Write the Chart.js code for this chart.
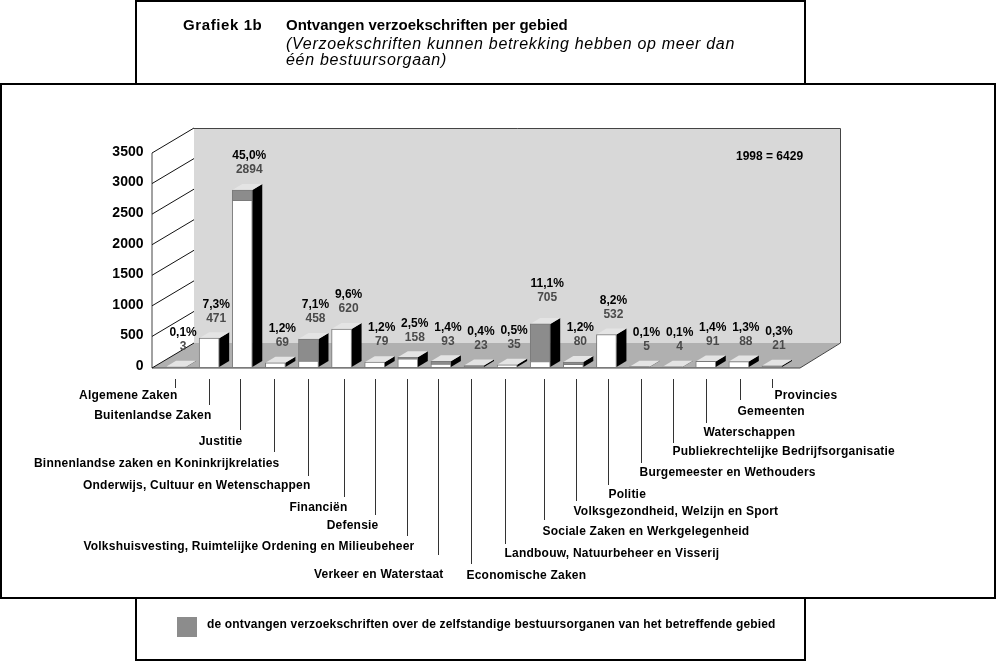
<!DOCTYPE html>
<html>
<head>
<meta charset="utf-8">
<title>Grafiek 1b</title>
<style>
  html, body { margin: 0; padding: 0; background: #fff; }
  canvas { display: block; }
</style>
<script src="https://cdn.jsdelivr.net/npm/chart.js@4/dist/chart.umd.min.js"></script>
</head>
<body>
<canvas id="chart" width="996" height="662"></canvas>
<script>
const categories = [
  'Algemene Zaken', 'Buitenlandse Zaken', 'Justitie', 'Binnenlandse zaken en Koninkrijkrelaties',
  'Onderwijs, Cultuur en Wetenschappen', 'Financiën', 'Defensie',
  'Volkshuisvesting, Ruimtelijke Ordening en Milieubeheer', 'Verkeer en Waterstaat', 'Economische Zaken',
  'Landbouw, Natuurbeheer en Visserij', 'Sociale Zaken en Werkgelegenheid', 'Volksgezondheid, Welzijn en Sport',
  'Politie', 'Burgemeester en Wethouders', 'Publiekrechtelijke Bedrijfsorganisatie', 'Waterschappen',
  'Gemeenten', 'Provincies',
]
const totals   = [3, 471, 2894, 69, 458, 620, 79, 158, 93, 23, 35, 705, 80, 532, 5, 4, 91, 88, 21]
const zboParts = [0, 0, 170, 0, 360, 0, 0, 25, 45, 23, 0, 615, 35, 0, 5, 4, 0, 0, 21]
const percents = ['0,1%', '7,3%', '45,0%', '1,2%', '7,1%', '9,6%', '1,2%', '2,5%', '1,4%', '0,4%', '0,5%', '11,1%', '1,2%', '8,2%', '0,1%', '0,1%', '1,4%', '1,3%', '0,3%']
const yTicks   = [0, 500, 1000, 1500, 2000, 2500, 3000, 3500]

// leader lines and their labels, per category
const leaderShift = [-1, 0, -2, -1, 0, 2, 0, -1, -3, -3, -2, 4, 3, 2, 1, 0, 0, 1, 0]
const leaderEnds  = [388, 405, 430, 452, 476, 497, 515, 536, 555, 564, 544, 520, 501, 485, 463, 443, 423, 400, 388]
const labelYs     = [396, 416, 442, 464, 486, 508, 526, 547, 575, 576, 554, 532, 512, 495, 473, 452, 433, 412, 396]
const labelShift  = [2, 2, 2, 5, 2, 3, 3, 7, 5, -5, -1, -2, -3, 0, -2, -1, -3, -3, 2]
const labelLift   = [0, 0, 0, 0, 0, 0, 0, 0, 0, 0, 0, 6, 0, 0, 0, 0, 0, 0, 0]

const FONT = '"Liberation Sans", Arial, sans-serif'
const DEPTH_X = 42, DEPTH_Y = 25
const BAR_DX  = 10, BAR_DY  = 6

function frame(ctx, x, y, w, h) {
  ctx.fillStyle = '#fff'
  ctx.fillRect(x, y, w, h)
  ctx.strokeStyle = '#000'
  ctx.lineWidth = 2
  ctx.strokeRect(x, y, w, h)
}

function poly(ctx, pts, fill) {
  ctx.beginPath()
  pts.forEach((p, i) => i ? ctx.lineTo(p[0], p[1]) : ctx.moveTo(p[0], p[1]))
  ctx.closePath()
  ctx.fillStyle = fill
  ctx.fill()
}

function text(ctx, str, x, y, font, color, align, spacing) {
  ctx.font = font
  ctx.letterSpacing = spacing || '0px'
  ctx.fillStyle = color || '#000'
  ctx.textAlign = align || 'left'
  ctx.textBaseline = 'middle'
  ctx.fillText(str, x, y)
  ctx.letterSpacing = '0px'
}

const boxesPlugin = {
  id: 'boxes',
  beforeDraw(chart) {
    const ctx = chart.ctx
    ctx.save()
    frame(ctx, 136, 1, 669, 90)
    frame(ctx, 136, 590, 669, 70)
    frame(ctx, 1, 84, 994, 514)

    text(ctx, 'Grafiek 1b', 183, 26, 'bold 15px ' + FONT, '#000', 'left', '0.6px')
    text(ctx, 'Ontvangen verzoekschriften per gebied', 286, 26, 'bold 15px ' + FONT)
    text(ctx, '(Verzoekschriften kunnen betrekking hebben op meer dan', 286, 45, 'italic 16px ' + FONT, '#000', 'left', '0.7px')
    text(ctx, 'één bestuursorgaan)', 286, 61, 'italic 16px ' + FONT, '#000', 'left', '0.7px')

    ctx.fillStyle = '#8c8c8c'
    ctx.fillRect(177, 617, 20, 20)
    text(ctx, 'de ontvangen verzoekschriften over de zelfstandige bestuursorganen van het betreffende gebied', 207, 625, 'bold 12px ' + FONT, '#000', 'left', '0.17px')
    ctx.restore()
  },
}

const box3dPlugin = {
  id: 'box3d',
  beforeDatasetsDraw(chart) {
    const ctx = chart.ctx, y = chart.scales.y, x = chart.scales.x
    const fx = x.left - 7.5, rx = x.right + 11.5
    const fy = y.getPixelForValue(0) + 1, ty = y.getPixelForValue(3500)
    const wallRight = rx + DEPTH_X - 2
    ctx.save()

    // back wall, floor
    poly(ctx, [[fx + DEPTH_X, ty - DEPTH_Y], [wallRight, ty - DEPTH_Y], [wallRight, fy - DEPTH_Y], [fx + DEPTH_X, fy - DEPTH_Y]], '#d8d8d8')
    poly(ctx, [[fx, fy], [rx, fy], [wallRight, fy - DEPTH_Y], [fx + DEPTH_X, fy - DEPTH_Y]], '#b0b0b0')

    ctx.lineWidth = 1
    ctx.strokeStyle = '#444'
    ctx.beginPath()
    ctx.moveTo(fx + DEPTH_X, ty - DEPTH_Y + 0.5)
    ctx.lineTo(wallRight + 0.5, ty - DEPTH_Y + 0.5)
    ctx.lineTo(wallRight + 0.5, fy - DEPTH_Y)
    ctx.lineTo(rx, fy)
    ctx.lineTo(fx, fy)
    ctx.lineTo(fx, ty)
    ctx.stroke()

    // diagonals on the side wall
    ctx.strokeStyle = '#111'
    yTicks.forEach(v => {
      const py = v === 0 ? fy : y.getPixelForValue(v)
      ctx.beginPath()
      ctx.moveTo(fx, py)
      ctx.lineTo(fx + DEPTH_X, py - DEPTH_Y)
      ctx.stroke()
    })

    // side and top faces of the bars
    const bars = chart.getDatasetMeta(0).data
    bars.forEach((bar, i) => {
      const l = bar.x - bar.width / 2, r = bar.x + bar.width / 2
      const top = y.getPixelForValue(totals[i]), base = y.getPixelForValue(0)
      poly(ctx, [[r, top], [r + BAR_DX, top - BAR_DY], [r + BAR_DX, base - BAR_DY], [r, base]], '#000')
      poly(ctx, [[l, top], [l + BAR_DX, top - BAR_DY], [r + BAR_DX, top - BAR_DY], [r, top]], '#e4e4e4')
    })
    ctx.restore()
  },
  afterDatasetsDraw(chart) {
    const ctx = chart.ctx, y = chart.scales.y, x = chart.scales.x
    ctx.save()
    categories.forEach((name, i) => {
      const cx = x.getPixelForValue(i), top = y.getPixelForValue(totals[i]) - labelLift[i]
      text(ctx, percents[i], cx + 7, top - 34, 'bold 12px ' + FONT, '#000', 'center')
      text(ctx, String(totals[i]), cx + 7, top - 20, 'bold 12px ' + FONT, '#4a4a4a', 'center')

      const lx = Math.round(cx) + leaderShift[i] + 0.5
      ctx.strokeStyle = '#333'
      ctx.lineWidth = 1
      ctx.beginPath()
      ctx.moveTo(lx, 379)
      ctx.lineTo(lx, leaderEnds[i])
      ctx.stroke()

      const left = i < 9
      text(ctx, name, lx + labelShift[i], labelYs[i], 'bold 12px ' + FONT, '#000', left ? 'right' : 'left', '0.22px')
    })
    text(ctx, '1998 = 6429', 736, 157, 'bold 12px ' + FONT)
    ctx.restore()
  },
}

new Chart(document.getElementById('chart'), {
  type: 'bar',
  data: {
    labels: categories,
    datasets: [
      {
        label: 'overig',
        data: totals.map((t, i) => t - zboParts[i]),
        backgroundColor: '#fff', borderColor: '#7a7a7a', borderWidth: 1,
        barThickness: 20,
      },
      {
        label: 'zelfstandige bestuursorganen',
        data: zboParts,
        backgroundColor: '#8c8c8c', borderColor: '#7a7a7a', borderWidth: 1,
        barThickness: 20,
      },
    ],
  },
  options: {
    responsive: false,
    animation: false,
    events: [],
    layout: { padding: { left: 0, right: 207.5, top: 153, bottom: 295 } },
    plugins: { legend: { display: false }, tooltip: { enabled: false }, title: { display: false } },
    scales: {
      x: { stacked: true, display: false },
      y: {
        stacked: true, min: 0, max: 3500,
        afterFit(scale) { scale.width = 159.5 },
        afterBuildTicks(scale) { scale.ticks = yTicks.map(value => ({ value })) },
        grid: { display: false, drawTicks: false },
        border: { display: false },
        ticks: {
          padding: 16, labelOffset: -1, color: '#000',
          font: { family: 'Liberation Sans', size: 14, weight: 'bold' },
          callback: value => String(value),
        },
      },
    },
  },
  plugins: [boxesPlugin, box3dPlugin],
})
</script>
</body>
</html>
